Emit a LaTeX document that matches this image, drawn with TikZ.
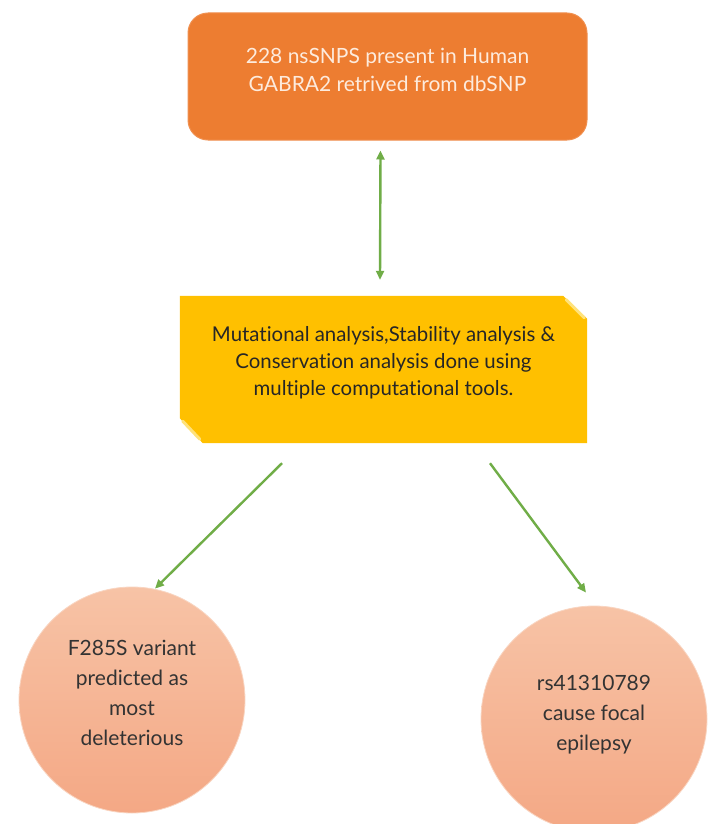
\documentclass[tikz,border=0pt]{standalone}
\usepackage{fontspec}
\setmainfont{Lato}[Ligatures=NoCommon]
\usetikzlibrary{calc,arrows.meta}
\definecolor{boxorange}{HTML}{ED7D31}
\definecolor{boxyellow}{HTML}{FFC000}
\definecolor{foldyellow}{HTML}{FFE27A}
\definecolor{linkgreen}{HTML}{70AD47}
\definecolor{topsalmon}{HTML}{F7C3A6}
\definecolor{botsalmon}{HTML}{F4A885}
\definecolor{lighttext}{HTML}{FDEBDD}
\tikzset{
  topbox/.style={rectangle, rounded corners=20pt, fill=boxorange, draw=boxorange!85!white,
    line width=1pt, minimum width=399pt, minimum height=127pt},
  toptext/.style={align=center, text=lighttext, font=\fontsize{21}{28}\selectfont},
  midbox/.style={rectangle, minimum width=407pt, minimum height=147pt},
  midtext/.style={align=center, text=black!85, font=\fontsize{20.4}{27}\selectfont},
  endcircle/.style={circle, minimum size=226pt, inner sep=0pt,
    top color=topsalmon, bottom color=botsalmon, draw=topsalmon!70!white, line width=0.8pt},
  endtext/.style={align=center, text=black!80, font=\fontsize{21}{30}\selectfont},
  link/.style={line width=2.4pt, color=linkgreen},
}
\begin{document}
\begin{tikzpicture}[x=1pt, y=-1pt]
		%%%%% START %%%%%
		\useasboundingbox[fill=white] (0, 0) rectangle (709, 824);
		
		\node[topbox] (dbsnp) at (387.5, 76.5) {};
		\node[toptext] (dbsnp-text) at ([yshift=7pt]dbsnp.center) {228 nsSNPS present in Human\\GABRA2 retrived from dbSNP};
		
		\node[midbox] (tools) at (383.5, 369.5) {};
		\fill[boxyellow] (tools.north west) -- ($(tools.north east)+(-24, 0)$) -- ($(tools.north east)+(0, 23)$)
			-- (tools.south east) -- ($(tools.south west)+(23, 0)$) -- ($(tools.south west)+(0, -25)$) -- cycle;
		\draw[line width=3pt, color=foldyellow, line cap=round] ($(tools.north east)+(-21, 4)$) -- ($(tools.north east)+(-3, 22)$);
		\draw[line width=3pt, color=foldyellow, line cap=round] ($(tools.south west)+(3, -22)$) -- ($(tools.south west)+(20, -4)$);
		\node[midtext] (tools-text) at ([yshift=7pt]tools.center) {Mutational analysis,Stability analysis \&\\Conservation analysis done using\\multiple computational tools.};
		
		\node[endcircle] (variant) at (132, 700) {};
		\node[endtext] (variant-text) at ([yshift=7pt]variant.center) {F285S variant\\predicted as\\most\\deleterious};
		\node[endcircle] (epilepsy) at (594, 719) {};
		\node[endtext] (epilepsy-text) at ([yshift=4pt]epilepsy.center) {rs41310789\\cause focal\\epilepsy};
		
		\draw[link, {Triangle[length=9pt, width=8pt]}-{Triangle[length=9pt, width=8pt]}]
			([xshift=-7pt, yshift=-10pt]dbsnp.south) -- ([xshift=-3.5pt, yshift=16pt]tools.north);
		\draw[link, -{Triangle[length=9pt, width=8pt]}]
			([xshift=-101.5pt, yshift=-20pt]tools.south) -- ([xshift=23pt, yshift=-2pt]variant.north);
		\draw[link, -{Triangle[length=9pt, width=8pt]}]
			([xshift=106.5pt, yshift=-20pt]tools.south) -- ([xshift=-8pt, yshift=13pt]epilepsy.north);
		%%%%% END %%%%%
	\end{tikzpicture}
\end{document}
